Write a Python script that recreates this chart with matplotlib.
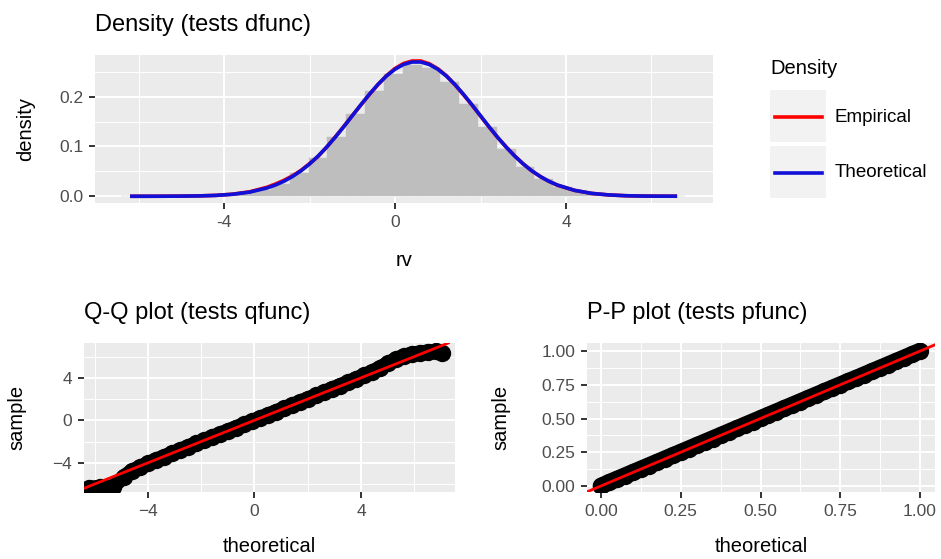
import matplotlib
matplotlib.use('Agg')
import matplotlib.pyplot as plt
from matplotlib.patches import Rectangle
from matplotlib.lines import Line2D

plt.rcParams['font.family'] = ['Liberation Sans', 'DejaVu Sans']

# density curves
rv = [-6.2, -5.8, -5.4, -5.0, -4.6, -4.2, -3.8, -3.4, -3.0, -2.8, -2.6, -2.4,
      -2.2, -2.0, -1.8, -1.6, -1.4, -1.2, -1.0, -0.8, -0.6, -0.4, -0.2, 0.0,
      0.2, 0.4, 0.6, 0.8, 1.0, 1.2, 1.4, 1.6, 1.8, 2.0, 2.2, 2.4, 2.6, 2.8,
      3.0, 3.2, 3.4, 3.6, 3.8, 4.2, 4.6, 5.0, 5.4, 5.8, 6.2, 6.6]
dens_theo = [0.0000, 0.0000, 0.0001, 0.0003, 0.0007, 0.0017, 0.0040, 0.0084,
             0.0165, 0.0225, 0.0301, 0.0396, 0.0511, 0.0648, 0.0807, 0.0987,
             0.1184, 0.1396, 0.1616, 0.1836, 0.2048, 0.2244, 0.2414, 0.2550,
             0.2645, 0.2694, 0.2694, 0.2645, 0.2550, 0.2414, 0.2244, 0.2048,
             0.1836, 0.1616, 0.1396, 0.1184, 0.0987, 0.0807, 0.0648, 0.0511,
             0.0396, 0.0301, 0.0225, 0.0119, 0.0058, 0.0027, 0.0011, 0.0004,
             0.0002, 0.0001]
dens_emp = [0.0000, 0.0000, 0.0001, 0.0003, 0.0008, 0.0018, 0.0042, 0.0090,
            0.0180, 0.0245, 0.0320, 0.0410, 0.0520, 0.0655, 0.0800, 0.0985,
            0.1190, 0.1400, 0.1620, 0.1830, 0.2040, 0.2240, 0.2420, 0.2565,
            0.2665, 0.2715, 0.2715, 0.2660, 0.2560, 0.2420, 0.2240, 0.2040,
            0.1830, 0.1610, 0.1390, 0.1180, 0.0990, 0.0810, 0.0650, 0.0510,
            0.0395, 0.0300, 0.0222, 0.0118, 0.0058, 0.0027, 0.0011, 0.0004,
            0.0002, 0.0001]

# histogram bins
hist_centers = [-6.20, -5.76, -5.32, -4.88, -4.44, -4.00, -3.56, -3.12, -2.68,
                -2.24, -1.80, -1.36, -0.92, -0.48, -0.04, 0.40, 0.84, 1.28,
                1.72, 2.16, 2.60, 3.04, 3.48, 3.92, 4.36, 4.80, 5.24, 5.68,
                6.12, 6.56]
hist_heights = [0.0000, 0.0000, 0.0001, 0.0004, 0.0010, 0.0026, 0.0060, 0.0130,
                0.0255, 0.0465, 0.0775, 0.1180, 0.1650, 0.2110, 0.2460, 0.2630,
                0.2580, 0.2290, 0.1860, 0.1390, 0.0950, 0.0595, 0.0340, 0.0178,
                0.0086, 0.0038, 0.0015, 0.0006, 0.0002, 0.0001]

# Q-Q points
qq_theo = [-6.2, -5.8, -5.3, -4.9, -4.6, -4.3, -4.0, -3.7, -3.4, -3.1, -2.8,
           -2.5, -2.2, -1.9, -1.6, -1.3, -1.0, -0.7, -0.4, -0.1, 0.2, 0.5,
           0.8, 1.1, 1.4, 1.7, 2.0, 2.3, 2.6, 2.9, 3.2, 3.5, 3.8, 4.1, 4.4,
           4.7, 5.0, 5.3, 5.6, 5.9, 6.2, 6.5, 6.8, 7.05]
qq_samp = [-6.35, -6.30, -6.25, -5.30, -4.75, -4.40, -4.05, -3.72, -3.42,
           -3.10, -2.80, -2.48, -2.18, -1.88, -1.58, -1.28, -0.98, -0.68,
           -0.38, -0.08, 0.22, 0.52, 0.82, 1.12, 1.43, 1.73, 2.04, 2.34,
           2.65, 2.96, 3.27, 3.58, 3.90, 4.22, 4.55, 4.95, 5.35, 5.75,
           6.05, 6.25, 6.35, 6.45, 6.50, 6.30]

# P-P points
pp_theo = [0.000, 0.025, 0.050, 0.075, 0.100, 0.125, 0.150, 0.175, 0.200,
           0.225, 0.250, 0.275, 0.300, 0.325, 0.350, 0.375, 0.400, 0.425,
           0.450, 0.475, 0.500, 0.525, 0.550, 0.575, 0.600, 0.625, 0.650,
           0.675, 0.700, 0.725, 0.750, 0.775, 0.800, 0.825, 0.850, 0.875,
           0.900, 0.925, 0.950, 0.975, 1.000]
pp_samp = [0.000, 0.026, 0.051, 0.076, 0.101, 0.126, 0.151, 0.176, 0.201,
           0.226, 0.251, 0.276, 0.301, 0.326, 0.351, 0.376, 0.401, 0.426,
           0.451, 0.476, 0.501, 0.526, 0.551, 0.576, 0.601, 0.626, 0.651,
           0.676, 0.701, 0.726, 0.751, 0.776, 0.800, 0.825, 0.850, 0.875,
           0.900, 0.925, 0.950, 0.975, 1.000]

BG = '#EBEBEB'
TICKC = '#4D4D4D'
RED = '#FF0000'
BLUE = '#1010D8'


def gg_style(ax, xmaj, xmin, ymaj, ymin, xlab, ylab, title, xpad, ypad):
    ax.set_facecolor(BG)
    for s in ax.spines.values():
        s.set_visible(False)
    ax.set_xticks(xmaj)
    ax.set_xticks(xmin, minor=True)
    ax.set_yticks(ymaj)
    ax.set_yticks(ymin, minor=True)
    ax.grid(which='major', color='white', lw=1.4)
    ax.grid(which='minor', color='white', lw=0.7)
    ax.set_axisbelow(True)
    ax.tick_params(which='major', length=4.5, width=1.4, color='#333333',
                   labelcolor=TICKC, labelsize=12.5, pad=4)
    ax.tick_params(which='minor', length=0)
    ax.set_xlabel(xlab, fontsize=14.5, labelpad=xpad)
    ax.set_ylabel(ylab, fontsize=14.5, labelpad=ypad)
    ax.set_title(title, loc='left', fontsize=17, pad=17)


def px(x, y):
    # pixel (from top-left) -> figure fraction
    return x / 941, 1 - y / 559


fig = plt.figure(figsize=(9.41, 5.59), dpi=100)

# top: density
ax1 = fig.add_axes([95/941, 1-203/559, (713-95)/941, (203-55)/559])
ax1.bar(hist_centers, hist_heights, width=0.44, color='#BEBEBE',
        edgecolor='#BEBEBE', linewidth=0.3)
ax1.plot(rv, dens_emp, color=RED, lw=2.6, solid_capstyle='butt')
ax1.plot(rv, dens_theo, color=BLUE, lw=2.6, solid_capstyle='butt')
ax1.set_xlim(-7.02, 7.44)
ax1.set_ylim(-0.0135, 0.2835)
gg_style(ax1, [-4, 0, 4], [-6, -2, 2, 6], [0.0, 0.1, 0.2], [0.05, 0.15, 0.25],
         'rv', 'density', 'Density (tests dfunc)', 15, 17)
ax1.set_yticklabels(['0.0', '0.1', '0.2'])
ax1.set_xticklabels(['-4', '0', '4'])

# legend (ggplot style keys)
fig.text(*px(770, 68), 'Density', fontsize=14.5, va='center', ha='left')
for label, col, top in [('Empirical', RED, 90), ('Theoretical', BLUE, 146)]:
    x0, y0 = px(770, top + 52)
    fig.add_artist(Rectangle((x0, y0), 56/941, 52/559, transform=fig.transFigure,
                             facecolor='#F2F2F2', edgecolor='none'))
    lx0, ly = px(775, top + 27)
    lx1, _ = px(822, top + 27)
    fig.add_artist(Line2D([lx0, lx1], [ly, ly], transform=fig.transFigure,
                          color=col, lw=2.6))
    fig.text(*px(835, top + 27), label, fontsize=13.5, va='center', ha='left')

# bottom left: Q-Q
ax2 = fig.add_axes([84/941, 1-492/559, (455-84)/941, (492-343)/559])
ax2.plot(qq_theo, qq_samp, '-o', color='black', ms=12.5, mew=0, lw=10.5,
         solid_joinstyle='round', solid_capstyle='round')
ax2.axline((0, 0), slope=1, color=RED, lw=2.0)
ax2.set_xlim(-6.4, 7.53)
ax2.set_ylim(-6.75, 7.28)
gg_style(ax2, [-4, 0, 4], [-6, -2, 2, 6], [-4, 0, 4], [-6, -2, 2, 6],
         'theoretical', 'sample', 'Q-Q plot (tests qfunc)', 13, 19)

# bottom right: P-P
ax3 = fig.add_axes([587/941, 1-492/559, (935-587)/941, (492-343)/559])
ax3.plot(pp_theo, pp_samp, '-o', color='black', ms=12.5, mew=0, lw=12,
         solid_joinstyle='round', solid_capstyle='round')
ax3.axline((0, 0), slope=1, color=RED, lw=2.0)
ax3.set_xlim(-0.044, 1.047)
ax3.set_ylim(-0.045, 1.06)
ticks = [0.0, 0.25, 0.5, 0.75, 1.0]
gg_style(ax3, ticks, [0.125, 0.375, 0.625, 0.875], ticks, [0.125, 0.375, 0.625, 0.875],
         'theoretical', 'sample', 'P-P plot (tests pfunc)', 13, 22)
ax3.set_xticklabels(['0.00', '0.25', '0.50', '0.75', '1.00'])
ax3.set_yticklabels(['0.00', '0.25', '0.50', '0.75', '1.00'])

fig.savefig('out.png', dpi=100)
